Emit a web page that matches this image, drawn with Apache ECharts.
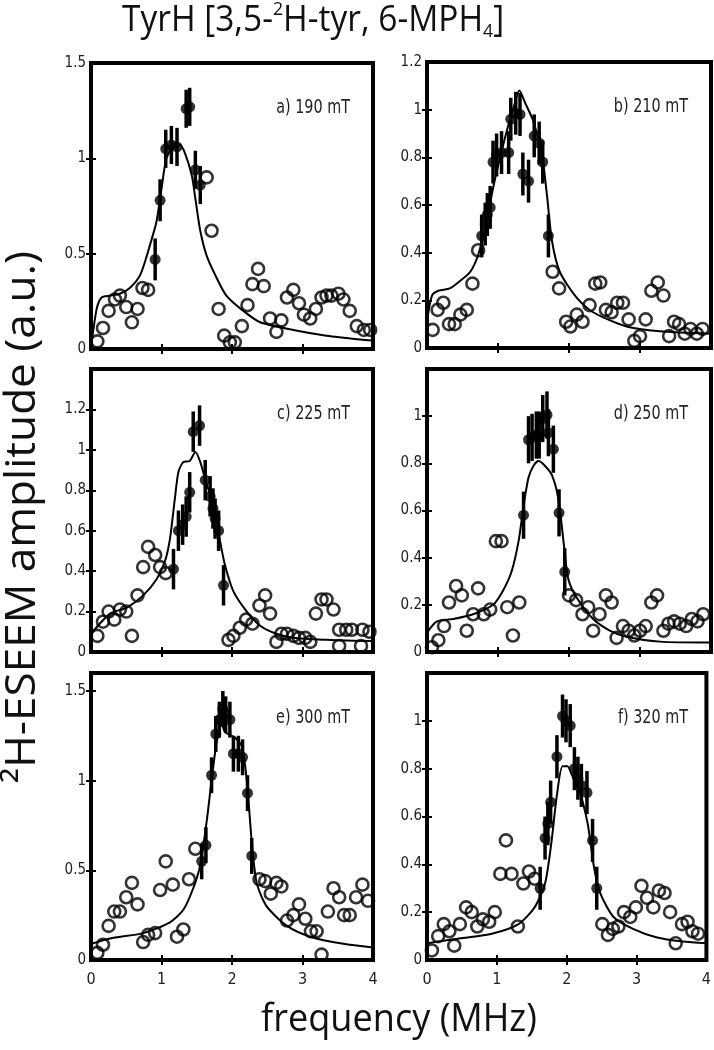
<!DOCTYPE html>
<html><head><meta charset="utf-8">
<script src="https://cdn.jsdelivr.net/npm/echarts@6/dist/echarts.min.js"></script>
<style>html,body{margin:0;padding:0;background:#fff}#c{width:714px;height:1050px}</style>
</head><body><div id="c"></div><script>
// ---------- DATA (MHz, a.u.) ----------
const xTickLabels = [0, 1, 2, 3, 4];
const xTicks = [1, 2, 3];

const labelA = 'a) 190 mT';
const yTicksA = [0, 0.5, 1, 1.5];
const openA = [[0.09,0.04],[0.17,0.11],[0.25,0.20],[0.34,0.26],[0.41,0.28],[0.50,0.22],[0.58,0.14],[0.66,0.21],[0.73,0.32],[0.81,0.31],[1.64,0.90],[1.71,0.62],[1.81,0.21],[1.89,0.07],[1.97,0.035],[2.04,0.035],[2.14,0.12],[2.22,0.23],[2.29,0.34],[2.37,0.42],[2.45,0.33],[2.54,0.16],[2.63,0.09],[2.70,0.15],[2.78,0.27],[2.87,0.31],[2.95,0.24],[3.02,0.18],[3.11,0.16],[3.19,0.21],[3.27,0.27],[3.34,0.28],[3.41,0.28],[3.51,0.29],[3.58,0.26],[3.67,0.20],[3.77,0.12],[3.87,0.10],[3.96,0.10]];
const filledA = [[0.91,0.47],[0.98,0.78],[1.06,1.05],[1.14,1.07],[1.22,1.06],[1.35,1.26],[1.40,1.27],[1.48,0.94],[1.55,0.86]];
const errA = [0.11,0.11,0.1,0.1,0.1,0.1,0.1,0.1,0.1];
const fitA = [[0,0.03],[0.01,0.04],[0.08,0.21],[0.15,0.27],[0.27,0.28],[0.41,0.29],[0.55,0.32],[0.70,0.39],[0.84,0.55],[0.93,0.67],[1.00,0.84],[1.07,1.00],[1.17,1.06],[1.26,1.07],[1.33,1.03],[1.43,0.91],[1.48,0.79],[1.55,0.62],[1.64,0.49],[1.76,0.39],[1.92,0.28],[2.16,0.20],[2.40,0.14],[2.87,0.10],[3.34,0.07],[3.82,0.05],[4.0,0.045]];

const labelB = 'b) 210 mT';
const yTicksB = [0, 0.2, 0.4, 0.6, 0.8, 1, 1.2];
const openB = [[0.08,0.076],[0.15,0.16],[0.23,0.19],[0.31,0.10],[0.39,0.10],[0.47,0.14],[0.56,0.16],[0.64,0.27],[0.72,0.41],[1.77,0.32],[1.86,0.25],[1.96,0.11],[2.02,0.09],[2.11,0.14],[2.19,0.11],[2.29,0.18],[2.37,0.27],[2.44,0.275],[2.52,0.16],[2.60,0.15],[2.68,0.19],[2.76,0.19],[2.84,0.12],[2.92,0.03],[3.00,0.05],[3.08,0.12],[3.16,0.24],[3.25,0.275],[3.33,0.22],[3.41,0.05],[3.48,0.11],[3.55,0.10],[3.63,0.06],[3.71,0.08],[3.80,0.06],[3.88,0.08]];
const filledB = [[0.77,0.47],[0.82,0.52],[0.85,0.56],[0.89,0.59],[0.93,0.78],[0.98,0.81],[1.05,0.82],[1.15,0.82],[1.18,0.96],[1.25,0.985],[1.31,0.98],[1.35,0.73],[1.43,0.70],[1.51,0.89],[1.58,0.86],[1.63,0.78],[1.71,0.47]];
const errB = [0.09,0.09,0.09,0.09,0.09,0.09,0.09,0.09,0.09,0.09,0.09,0.09,0.09,0.09,0.09,0.09,0.09];
const fitB = [[0,0.11],[0.07,0.22],[0.16,0.24],[0.32,0.25],[0.46,0.28],[0.61,0.32],[0.72,0.39],[0.84,0.53],[0.93,0.67],[1.03,0.80],[1.15,0.94],[1.24,1.03],[1.30,1.08],[1.38,1.03],[1.50,0.95],[1.62,0.81],[1.69,0.64],[1.76,0.45],[1.87,0.32],[2.11,0.21],[2.34,0.15],[2.81,0.09],[3.28,0.07],[4.0,0.06]];

const labelC = 'c) 225 mT';
const yTicksC = [0, 0.2, 0.4, 0.6, 0.8, 1, 1.2];
const openC = [[0.09,0.08],[0.17,0.15],[0.25,0.20],[0.33,0.16],[0.41,0.21],[0.50,0.20],[0.58,0.08],[0.66,0.28],[0.74,0.42],[0.81,0.52],[0.91,0.48],[0.98,0.42],[1.06,0.39],[1.95,0.06],[2.02,0.08],[2.11,0.12],[2.20,0.16],[2.29,0.14],[2.39,0.23],[2.47,0.28],[2.54,0.19],[2.63,0.05],[2.70,0.09],[2.78,0.09],[2.87,0.08],[2.95,0.07],[3.04,0.07],[3.11,0.05],[3.19,0.19],[3.27,0.26],[3.34,0.26],[3.44,0.21],[3.52,0.03],[3.52,0.11],[3.62,0.11],[3.70,0.11],[3.83,0.03],[3.85,0.11],[3.95,0.10]];
const filledC = [[1.17,0.41],[1.24,0.60],[1.30,0.63],[1.35,0.67],[1.40,0.79],[1.45,1.09],[1.54,1.12],[1.62,0.85],[1.69,0.77],[1.73,0.71],[1.76,0.66],[1.81,0.60],[1.88,0.33]];
const errC = [0.1,0.1,0.1,0.1,0.1,0.1,0.1,0.1,0.1,0.1,0.1,0.1,0.1];
const fitC = [[0,0.09],[0.27,0.19],[0.51,0.22],[0.74,0.28],[0.93,0.36],[1.05,0.45],[1.12,0.56],[1.19,0.76],[1.24,0.89],[1.31,0.94],[1.40,0.945],[1.48,0.99],[1.55,0.94],[1.64,0.83],[1.74,0.73],[1.83,0.55],[1.90,0.43],[2.02,0.30],[2.21,0.20],[2.40,0.13],[2.63,0.09],[2.87,0.07],[3.34,0.06],[3.82,0.055],[4.0,0.055]];

const labelD = 'd) 250 mT';
const yTicksD = [0, 0.2, 0.4, 0.6, 0.8, 1];
const openD = [[0.07,0.02],[0.16,0.05],[0.24,0.11],[0.31,0.21],[0.41,0.28],[0.49,0.24],[0.56,0.09],[0.65,0.16],[0.72,0.27],[0.80,0.16],[0.89,0.18],[0.97,0.47],[1.05,0.47],[1.13,0.19],[1.21,0.07],[1.30,0.21],[2.00,0.24],[2.10,0.22],[2.19,0.16],[2.27,0.19],[2.34,0.09],[2.43,0.16],[2.52,0.24],[2.60,0.21],[2.67,0.06],[2.76,0.11],[2.84,0.09],[2.92,0.07],[3.00,0.09],[3.08,0.11],[3.16,0.21],[3.24,0.24],[3.33,0.09],[3.40,0.12],[3.48,0.13],[3.56,0.12],[3.65,0.11],[3.73,0.14],[3.81,0.13],[3.89,0.16]];
const filledD = [[1.36,0.58],[1.43,0.90],[1.48,0.91],[1.54,0.92],[1.58,0.92],[1.63,0.99],[1.69,1.005],[1.71,0.93],[1.78,0.86],[1.86,0.59],[1.94,0.34]];
const errD = [0.1,0.1,0.1,0.1,0.1,0.1,0.1,0.1,0.1,0.1,0.1];
const fitD = [[0,0.07],[0.02,0.09],[0.14,0.13],[0.37,0.14],[0.65,0.16],[0.93,0.20],[1.07,0.26],[1.19,0.34],[1.29,0.47],[1.36,0.62],[1.43,0.74],[1.50,0.79],[1.57,0.81],[1.66,0.79],[1.76,0.75],[1.85,0.65],[1.93,0.45],[1.99,0.31],[2.11,0.23],[2.34,0.14],[2.58,0.09],[2.81,0.065],[3.28,0.044],[4.0,0.04]];

const labelE = 'e) 300 mT';
const yTicksE = [0, 0.5, 1, 1.5];
const openE = [[0.09,0.04],[0.17,0.085],[0.25,0.19],[0.33,0.27],[0.41,0.27],[0.50,0.35],[0.58,0.43],[0.66,0.31],[0.74,0.10],[0.81,0.14],[0.91,0.15],[0.98,0.39],[1.06,0.55],[1.16,0.42],[1.22,0.13],[1.31,0.17],[1.39,0.45],[1.48,0.62],[2.39,0.45],[2.47,0.44],[2.55,0.37],[2.63,0.43],[2.70,0.41],[2.78,0.22],[2.87,0.25],[2.95,0.31],[3.04,0.23],[3.12,0.16],[3.20,0.16],[3.27,0.03],[3.36,0.27],[3.44,0.40],[3.52,0.35],[3.59,0.25],[3.67,0.25],[3.76,0.35],[3.85,0.42],[3.93,0.33]];
const filledE = [[1.57,0.55],[1.63,0.64],[1.71,1.03],[1.77,1.26],[1.82,1.34],[1.87,1.40],[1.91,1.37],[1.97,1.34],[2.02,1.15],[2.09,1.15],[2.15,1.13],[2.22,0.93],[2.28,0.58]];
const errE = [0.1,0.1,0.1,0.1,0.1,0.1,0.1,0.1,0.1,0.1,0.1,0.1,0.1];
const fitE = [[0,0.09],[0.27,0.12],[0.74,0.15],[1.12,0.21],[1.31,0.28],[1.45,0.40],[1.55,0.53],[1.64,0.77],[1.71,1.00],[1.78,1.21],[1.85,1.32],[1.90,1.27],[1.95,1.26],[2.04,1.24],[2.14,1.19],[2.21,1.00],[2.28,0.66],[2.35,0.43],[2.49,0.30],[2.78,0.19],[3.11,0.13],[3.58,0.09],[4.0,0.07]];

const labelF = 'f) 320 mT';
const yTicksF = [0, 0.2, 0.4, 0.6, 0.8, 1];
const openF = [[0.07,0.04],[0.16,0.10],[0.24,0.15],[0.32,0.12],[0.39,0.06],[0.47,0.15],[0.56,0.22],[0.64,0.20],[0.72,0.14],[0.80,0.17],[0.89,0.16],[0.97,0.20],[1.05,0.36],[1.13,0.50],[1.21,0.36],[1.30,0.14],[1.38,0.32],[1.46,0.37],[1.54,0.34],[2.51,0.15],[2.59,0.105],[2.66,0.13],[2.74,0.14],[2.82,0.20],[2.91,0.18],[2.99,0.22],[3.07,0.31],[3.15,0.26],[3.24,0.22],[3.32,0.29],[3.40,0.28],[3.48,0.20],[3.56,0.07],[3.65,0.15],[3.73,0.16],[3.80,0.12],[3.88,0.11]];
const filledF = [[1.62,0.30],[1.69,0.51],[1.73,0.57],[1.77,0.66],[1.86,0.85],[1.94,1.02],[1.99,1.00],[2.05,0.98],[2.11,0.80],[2.16,0.76],[2.21,0.73],[2.29,0.70],[2.37,0.50],[2.43,0.30]];
const errF = [0.09,0.09,0.09,0.09,0.09,0.09,0.09,0.09,0.09,0.09,0.09,0.09,0.09,0.09];
const fitF = [[0,0.06],[0.02,0.07],[0.46,0.09],[0.93,0.11],[1.31,0.15],[1.54,0.22],[1.69,0.32],[1.78,0.49],[1.86,0.69],[1.94,0.81],[2.01,0.81],[2.08,0.77],[2.18,0.71],[2.30,0.57],[2.39,0.39],[2.48,0.28],[2.67,0.18],[2.95,0.13],[3.28,0.095],[3.66,0.077],[4.0,0.07]];

// ---------- LAYOUT ----------
const panels = [
  {open: openA, filled: filledA, err: errA, fit: fitA, yTicks: yTicksA, label: labelA, ymax: 1.5, step: 0.5, left: 91,  top: 63,  w: 282, h: 286, xl: false},
  {open: openB, filled: filledB, err: errB, fit: fitB, yTicks: yTicksB, label: labelB, ymax: 1.2, step: 0.2, left: 427, top: 62,  w: 284, h: 286, xl: false},
  {open: openC, filled: filledC, err: errC, fit: fitC, yTicks: yTicksC, label: labelC, ymax: 1.4, step: 0.2, left: 91,  top: 369, w: 282, h: 283, xl: false},
  {open: openD, filled: filledD, err: errD, fit: fitD, yTicks: yTicksD, label: labelD, ymax: 1.2, step: 0.2, left: 427, top: 369, w: 284, h: 283, xl: false},
  {open: openE, filled: filledE, err: errE, fit: fitE, yTicks: yTicksE, label: labelE, ymax: 1.6, step: 0.5, left: 91,  top: 673, w: 282, h: 287, xl: true},
  {open: openF, filled: filledF, err: errF, fit: fitF, yTicks: yTicksF, label: labelF, ymax: 1.2, step: 0.2, left: 427, top: 673, w: 284, h: 287, xl: true}
];

const tickFont = '"Liberation Sans Narrow","DejaVu Sans Condensed","Roboto Condensed",sans-serif';
const textFont = '"Open Sans","Noto Sans",sans-serif';
const grid = [], xAxis = [], yAxis = [], series = [], graphic = [];
const near = (list, v) => list.some(t => Math.abs(t - v) < 1e-6);

panels.forEach((p, i) => {
  grid.push({left: p.left, top: p.top, width: p.w, height: p.h, show: true,
    borderColor: '#000', borderWidth: 4, backgroundColor: 'transparent'});
  const tickStyle = {inside: true, length: 5, lineStyle: {color: '#000', width: 2}};
  xAxis.push({type: 'value', gridIndex: i, min: 0, max: 4, interval: 1, position: 'bottom',
    axisLine: {show: false}, splitLine: {show: false},
    axisTick: Object.assign({customValues: xTicks}, tickStyle),
    axisLabel: {show: p.xl, customValues: xTickLabels, margin: 12, color: '#222', fontSize: 16, fontFamily: tickFont}});
  xAxis.push({type: 'value', gridIndex: i, min: 0, max: 4, interval: 1, position: 'top',
    axisLine: {show: false}, splitLine: {show: false},
    axisTick: Object.assign({customValues: xTicks}, tickStyle), axisLabel: {show: false}});
  const innerY = p.yTicks.filter(v => v > 0 && v < p.ymax - 1e-6);
  yAxis.push({type: 'value', gridIndex: i, min: 0, max: p.ymax, interval: p.step, position: 'left',
    axisLine: {show: false}, splitLine: {show: false},
    axisTick: Object.assign({customValues: innerY}, tickStyle),
    axisLabel: {customValues: p.yTicks, margin: 5, color: '#222', fontSize: 15, fontFamily: tickFont,
      formatter: v => near(p.yTicks, v) ? String(Math.round(v * 10) / 10) : ''}});
  yAxis.push({type: 'value', gridIndex: i, min: 0, max: p.ymax, interval: p.step, position: 'right',
    axisLine: {show: false}, splitLine: {show: false},
    axisTick: Object.assign({customValues: innerY}, tickStyle), axisLabel: {show: false}});

  const xi = 2 * i, yi = 2 * i;
  series.push({type: 'line', xAxisIndex: xi, yAxisIndex: yi, data: p.fit, showSymbol: false,
    smooth: 0.25, lineStyle: {color: '#000', width: 2}, z: 2, silent: true, animation: false});
  series.push({type: 'scatter', xAxisIndex: xi, yAxisIndex: yi, data: p.open, symbol: 'circle', symbolSize: 12,
    itemStyle: {color: 'rgba(255,255,255,0)', borderColor: '#000', borderWidth: 2.6}, z: 3, animation: false});
  series.push({type: 'custom', xAxisIndex: xi, yAxisIndex: yi,
    data: p.filled.map((d, k) => [d[0], d[1], p.err[k]]),
    renderItem: (params, api) => {
      const x = api.value(0), y = api.value(1), e = api.value(2);
      const a = api.coord([x, y - e]), b = api.coord([x, y + e]);
      return {type: 'line', shape: {x1: a[0], y1: a[1], x2: b[0], y2: b[1]}, style: {stroke: '#000', lineWidth: 3.5}};
    }, z: 4, animation: false});
  series.push({type: 'scatter', xAxisIndex: xi, yAxisIndex: yi, data: p.filled, symbol: 'circle', symbolSize: 11,
    itemStyle: {color: '#000'}, z: 5, animation: false});

  graphic.push({type: 'text', x: p.left + p.w - 23, y: p.top + 45, scaleX: 0.8,
    style: {text: p.label, font: '20px ' + tickFont, fill: '#222', align: 'right', verticalAlign: 'middle'}});
});

graphic.push({type: 'text', x: 122, y: 21, scaleX: 0.93,
  style: {rich: {n: {fontSize: 36, fontFamily: textFont, fill: '#111'},
                 sup: {fontSize: 19, fontFamily: textFont, fill: '#111', verticalAlign: 'top', padding: [0,0,16,0]},
                 sub: {fontSize: 19, fontFamily: textFont, fill: '#111', padding: [22,0,0,0]}},
          text: '{n|TyrH [3,5-}{sup|2}{n|H-tyr, 6-MPH}{sub|4}{n|]}', verticalAlign: 'middle'}});
graphic.push({type: 'text', x: 23, y: 517, rotation: Math.PI / 2, scaleX: 1.05,
  style: {text: '\u00B2H-ESEEM amplitude (a.u.)', font: '42px ' + textFont, fill: '#111',
          align: 'center', verticalAlign: 'middle'}});
graphic.push({type: 'text', x: 399, y: 1020, scaleX: 0.95,
  style: {text: 'frequency (MHz)', font: '38px ' + textFont, fill: '#111',
          align: 'center', verticalAlign: 'middle'}});

const chart = echarts.init(document.getElementById('c'), null, {renderer: 'canvas'});
chart.setOption({animation: false, grid, xAxis, yAxis, series, graphic});
</script></body></html>
